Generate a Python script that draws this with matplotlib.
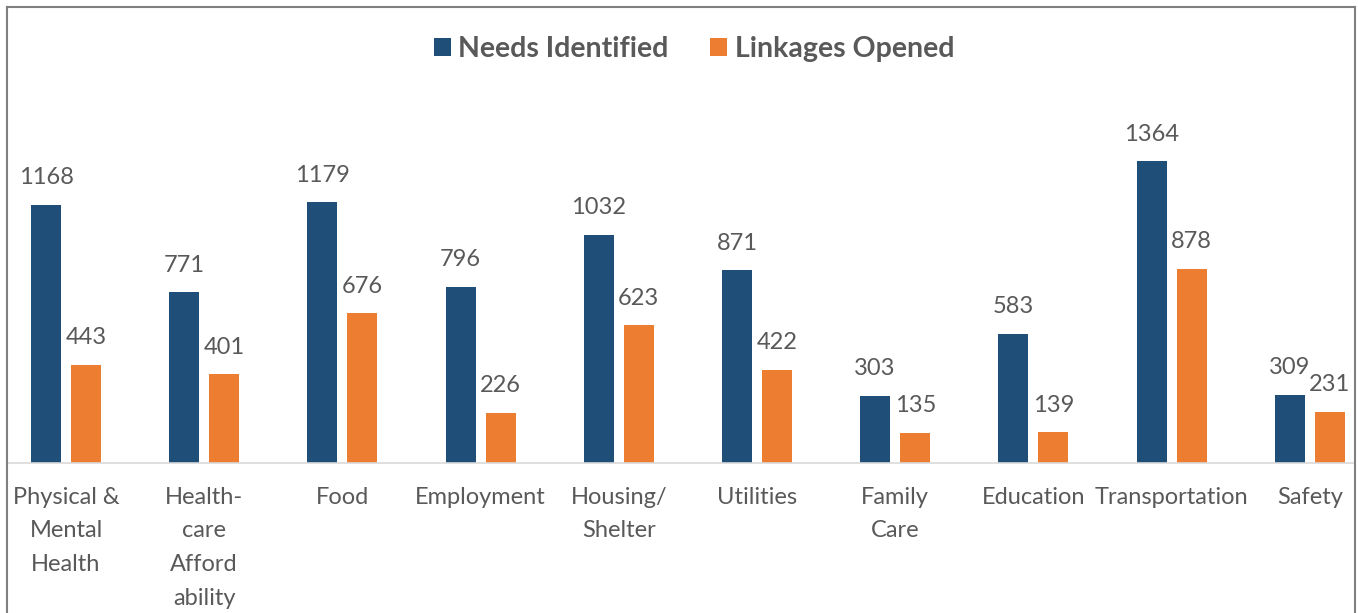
import numpy as np
import matplotlib
matplotlib.use("Agg")
import matplotlib.pyplot as plt
from matplotlib.lines import Line2D

plt.rcParams["font.family"] = ["Lato", "DejaVu Sans"]

categories = [
    "Physical &\nMental\nHealth", "Health-\ncare\nAfford\nability", "Food",
    "Employment", "Housing/\nShelter", "Utilities", "Family\nCare",
    "Education", "Transportation", "Safety",
]
needs_identified = [1168, 771, 1179, 796, 1032, 871, 303, 583, 1364, 309]
linkages_opened = [443, 401, 676, 226, 623, 422, 135, 139, 878, 231]

BLUE = "#1F4E79"
ORANGE = "#ED7D31"
TEXT = "#595959"

W, H = 1358, 613
fig = plt.figure(figsize=(W / 100, H / 100), dpi=100)

# axes in pixel terms: baseline at y=463, spans the bordered frame horizontally
left, right, bottom, top = 7, 1355, 463, 100
ax = fig.add_axes([left / W, (H - bottom) / H, (right - left) / W, (bottom - top) / H])

x = np.arange(len(categories))
width = 0.217
off = 0.145
b1 = ax.bar(x - off, needs_identified, width, color=BLUE, label="Needs Identified")
b2 = ax.bar(x + off, linkages_opened, width, color=ORANGE, label="Linkages Opened")

for bars, vals in ((b1, needs_identified), (b2, linkages_opened)):
    for rect, v in zip(bars, vals):
        ax.annotate(str(v), (rect.get_x() + rect.get_width() / 2, v),
                    xytext=(0, 12), textcoords="offset points",
                    ha="center", va="bottom", fontsize=17, color=TEXT)

px_per_cat = 138.2
ax.set_xlim(-(66 - left) / px_per_cat, (right - 66) / px_per_cat)
ax.set_ylim(0, (bottom - top) / 0.2212)

ax.set_xticks(x)
ax.set_xticklabels(categories, fontsize=17, color=TEXT, linespacing=1.75)
ax.tick_params(axis="x", length=0, pad=17)
ax.set_yticks([])
for s in ("left", "right", "top"):
    ax.spines[s].set_visible(False)
ax.spines["bottom"].set_color("#D9D9D9")
ax.spines["bottom"].set_linewidth(1.2)

leg = fig.legend(loc="center", bbox_to_anchor=(694 / W, 1 - 49 / H), ncol=2,
                 frameon=False, handlelength=0.6, handleheight=0.6,
                 handletextpad=0.25, columnspacing=1.47,
                 prop={"size": 20.5, "weight": "bold"})
for t in leg.get_texts():
    t.set_color(TEXT)

# outer frame (left, top, right)
fc = "#808080"
fig.add_artist(Line2D([left / W, left / W], [0, 1 - 7 / H], color=fc, lw=1.5,
                      transform=fig.transFigure))
fig.add_artist(Line2D([left / W, right / W], [1 - 7 / H, 1 - 7 / H], color=fc, lw=1.5,
                      transform=fig.transFigure))
fig.add_artist(Line2D([right / W, right / W], [0, 1 - 7 / H], color=fc, lw=1.5,
                      transform=fig.transFigure))

fig.savefig("out.png", dpi=100)
